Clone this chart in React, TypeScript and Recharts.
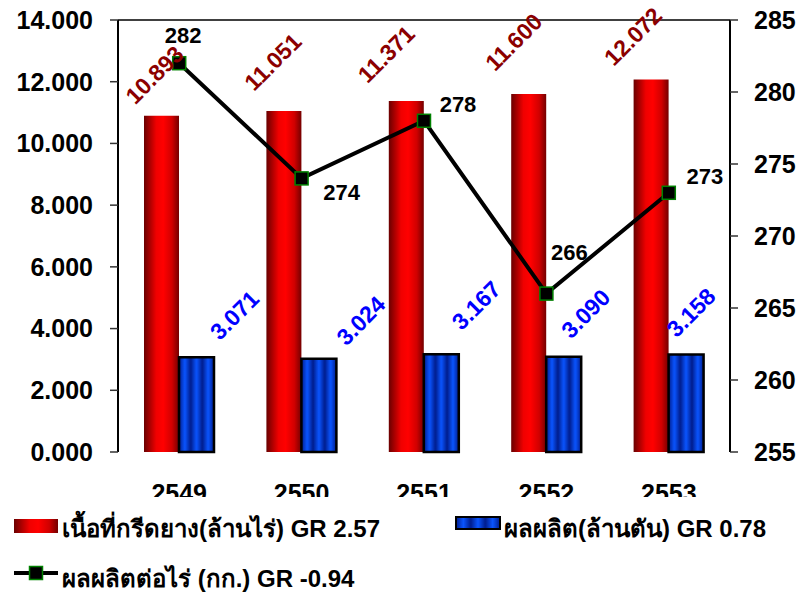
import {
    ComposedChart,
    Bar,
    Line,
    XAxis,
    YAxis,
    LabelList,
    ReferenceLine,
} from "recharts";

const years = ["2549", "2550", "2551", "2552", "2553"];
const tappingArea = [10.893, 11.051, 11.371, 11.6, 12.072];
const production = [3.071, 3.024, 3.167, 3.09, 3.158];
const yieldPerRai = [282, 274, 278, 266, 273];
const leftTicks = [0, 2, 4, 6, 8, 10, 12, 14];
const rightTicks = [255, 260, 265, 270, 275, 280, 285];
const boundaryTicks = [0, 1, 2, 3, 4, 5];

const legendArea = "เนื้อที่กรีดยาง(ล้านไร่) GR 2.57";
const legendProduction = "ผลผลิต(ล้านตัน) GR 0.78";
const legendYield = "ผลผลิตต่อไร่ (กก.) GR -0.94";

// label nudges (pixels) from the mark's anchor point
const areaLabelOffsets = [
    [-7, -41],
    [-11, -49],
    [-20, -47],
    [-15, -52],
    [-18, -43],
];
const prodLabelOffsets = [
    [38, -42],
    [42, -38],
    [35, -49],
    [22, -43],
    [5, -42],
];
const yieldLabelOffsets = [
    [4, -28],
    [40, 14],
    [34, -16],
    [23, -41],
    [36, -16],
];

const FONT = "'Liberation Sans', Arial, sans-serif";

const data = years.map((y, i) => ({
    year: y,
    area: tappingArea[i],
    prod: production[i],
    yld: yieldPerRai[i],
}));

function RotatedLabel(props: any) {
    const { x, y, width, value, index, offsets, color } = props;
    const off = offsets[index] || [0, -40];
    const cx = x + width / 2 + off[0];
    const cy = y + off[1];
    return (
        <text
            x={cx}
            y={cy}
            transform={`rotate(-45, ${cx}, ${cy})`}
            textAnchor="middle"
            dominantBaseline="central"
            fill={color}
            fontSize={23}
            fontWeight="bold"
            fontFamily={FONT}
        >
            {Number(value).toFixed(3)}
        </text>
    );
}

function YieldLabel(props: any) {
    const { x, y, value, index } = props;
    const off = yieldLabelOffsets[index] || [30, -16];
    return (
        <text
            x={x + off[0]}
            y={y + off[1]}
            textAnchor="middle"
            dominantBaseline="central"
            fill="#000"
            fontSize={22}
            fontWeight="bold"
            fontFamily={FONT}
        >
            {value}
        </text>
    );
}

function SquareDot(props: any) {
    const { cx, cy, index } = props;
    return (
        <rect
            key={`dot-${index}`}
            x={cx - 6.5}
            y={cy - 6.5}
            width={13}
            height={13}
            fill="#000"
            stroke="#008000"
            strokeWidth={1.5}
        />
    );
}

function Defs({ prefix }: { prefix: string }) {
    return (
        <defs>
            <linearGradient id={`${prefix}red`} x1="0" y1="0" x2="1" y2="0">
                <stop offset="0%" stopColor="#6a0000" />
                <stop offset="35%" stopColor="#f00000" />
                <stop offset="55%" stopColor="#ff0000" />
                <stop offset="80%" stopColor="#d00000" />
                <stop offset="100%" stopColor="#740000" />
            </linearGradient>
            <linearGradient id={`${prefix}stripe`} x1="0" y1="0" x2="1" y2="0">
                <stop offset="0%" stopColor="#001c8c" />
                <stop offset="50%" stopColor="#0a55ff" />
                <stop offset="100%" stopColor="#001c8c" />
            </linearGradient>
            <pattern
                id={`${prefix}blue`}
                patternUnits="objectBoundingBox"
                patternContentUnits="objectBoundingBox"
                width={1 / 3}
                height={1}
            >
                <rect x={0} y={0} width={1 / 3} height={1} fill={`url(#${prefix}stripe)`} />
            </pattern>
        </defs>
    );
}

function ChartLegend() {
    const textStyle = {
        fontSize: 24,
        fontWeight: "bold" as const,
        fontFamily: FONT,
        fill: "#000",
    };
    return (
        <svg
            width={800}
            height={98}
            style={{ position: "absolute", left: 0, top: 497, background: "#fff" }}
        >
            <Defs prefix="lg-" />
            <rect x={14} y={22} width={44} height={14} fill="url(#lg-red)" />
            <text x={62} y={31} dominantBaseline="central" {...textStyle}>
                {legendArea}
            </text>
            <rect
                x={456}
                y={20}
                width={44}
                height={12}
                fill="url(#lg-blue)"
                stroke="#000"
                strokeWidth={2}
            />
            <text x={504} y={31} dominantBaseline="central" {...textStyle}>
                {legendProduction}
            </text>
            <line x1={14} y1={76} x2={58} y2={76} stroke="#000" strokeWidth={4} />
            <rect x={29.5} y={69.5} width={13} height={13} fill="#000" stroke="#008000" strokeWidth={1.5} />
            <text x={62} y={81} dominantBaseline="central" {...textStyle}>
                {legendYield}
            </text>
        </svg>
    );
}

export default function App() {
    const tickStyle = { fontSize: 25, fontWeight: "bold", fontFamily: FONT, fill: "#000" };
    return (
        <div style={{ position: "absolute", left: 0, top: 0, width: 800, height: 595, background: "#fff" }}>
            <ComposedChart
                width={800}
                height={595}
                data={data}
                margin={{ top: 20, right: 0, bottom: 0, left: 0 }}
                barGap={0}
            >
                <Defs prefix="ch-" />
                <XAxis
                    xAxisId="grid"
                    type="number"
                    domain={[0, 5]}
                    ticks={boundaryTicks}
                    tick={false}
                    height={0}
                    tickSize={8}
                    axisLine={{ stroke: "#000", strokeWidth: 2 }}
                    tickLine={{ stroke: "#333", strokeWidth: 1.5 }}
                    allowDataOverflow
                />
                <XAxis
                    dataKey="year"
                    height={143}
                    axisLine={false}
                    tickLine={false}
                    tickSize={8}
                    tickMargin={24}
                    tick={tickStyle}
                    interval={0}
                />
                <YAxis
                    yAxisId="left"
                    domain={[0, 14]}
                    ticks={leftTicks}
                    width={118}
                    tickSize={8}
                    tickMargin={17}
                    tickFormatter={(v: number) => v.toFixed(3)}
                    tick={tickStyle}
                    axisLine={{ stroke: "#000", strokeWidth: 2 }}
                    tickLine={{ stroke: "#333", strokeWidth: 1.5 }}
                />
                <YAxis
                    yAxisId="right"
                    orientation="right"
                    domain={[255, 285]}
                    ticks={rightTicks}
                    width={70}
                    tickSize={8}
                    tickMargin={16}
                    tick={tickStyle}
                    axisLine={{ stroke: "#000", strokeWidth: 2 }}
                    tickLine={{ stroke: "#333", strokeWidth: 1.5 }}
                />
                <ReferenceLine yAxisId="left" y={14} stroke="#000" strokeWidth={1.5} />
                <Bar
                    yAxisId="left"
                    dataKey="area"
                    barSize={35}
                    fill="url(#ch-red)"
                    isAnimationActive={false}
                >
                    <LabelList
                        dataKey="area"
                        content={<RotatedLabel offsets={areaLabelOffsets} color="#8b0000" />}
                    />
                </Bar>
                <Bar
                    yAxisId="left"
                    dataKey="prod"
                    barSize={35}
                    fill="url(#ch-blue)"
                    stroke="#000"
                    strokeWidth={2.5}
                    isAnimationActive={false}
                >
                    <LabelList
                        dataKey="prod"
                        content={<RotatedLabel offsets={prodLabelOffsets} color="#0000ff" />}
                    />
                </Bar>
                <Line
                    yAxisId="right"
                    dataKey="yld"
                    stroke="#000"
                    strokeWidth={4}
                    dot={<SquareDot />}
                    activeDot={false}
                    isAnimationActive={false}
                >
                    <LabelList dataKey="yld" content={<YieldLabel />} />
                </Line>
            </ComposedChart>
            <ChartLegend />
        </div>
    );
}
